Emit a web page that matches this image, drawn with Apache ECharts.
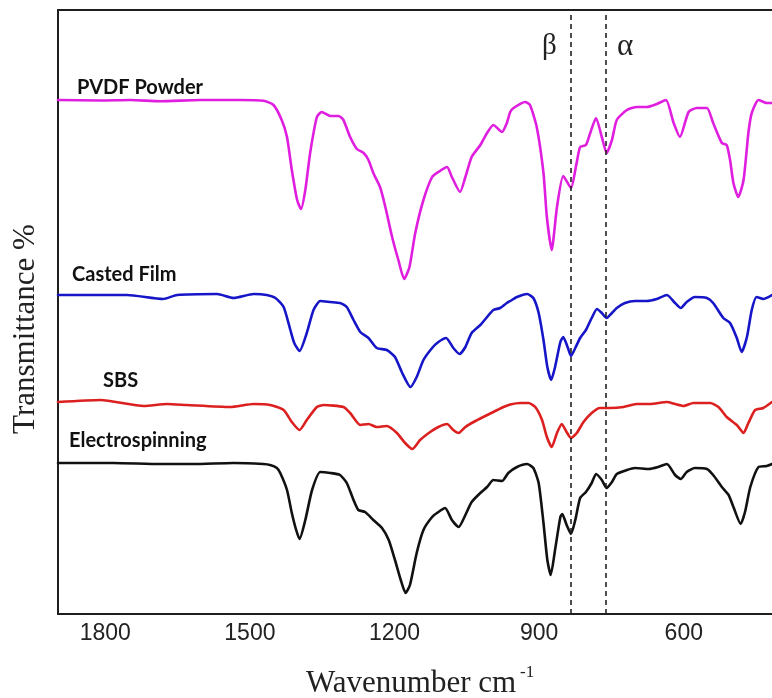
<!DOCTYPE html>
<html>
<head>
<meta charset="utf-8">
<script src="https://cdn.jsdelivr.net/npm/echarts@6/dist/echarts.min.js"></script>
<style>
  html, body { margin: 0; padding: 0; background: #fff; }
  #chart { width: 772px; height: 698px; }
</style>
</head>
<body>
<div id="chart"></div>
<script>
// FTIR spectra, [wavenumber (cm^-1), transmittance in arbitrary offset units]
const pvdfPowder = [
  [1898,514],[1810,513.5],[1748,514],[1686,512.7],[1603,514],[1520,514],[1472,513.3],
  [1451,509],[1434,494],[1423,477],[1413,444],[1402,414],[1394,405],[1385,424],[1375,461],
  [1361,497],[1351,502],[1333,498],[1316,498],[1306,494],[1292,477],[1278,465],[1264,461],
  [1254,454],[1244,441],[1230,427],[1219,407],[1205,377],[1192,354],[1180,335],[1169,347],
  [1157,381],[1140,414],[1122,437],[1109,442],[1091,447],[1081,437],[1064,422],[1053,437],
  [1040,457],[1022,469],[1008,481],[995,489],[977,482],[967,491],[960,502],[953,506],
  [929,512],[919,509],[905,487],[891,441],[884,397],[874,364],[863,407],[850,438],
  [834,426],[823,449],[815,467],[803,469],[794,481],[782,496],[770,477],[760,461],
  [749,474],[739,494],[718,504],[697,507],[677,507],[656,510],[637,514],[621,491],
  [608,477],[590,502],[573,506],[552,506],[539,491],[521,471],[511,469],[504,454],
  [497,431],[487,417],[476,434],[466,481],[459,501],[445,514],[428,511],[417,511]
];
const castedFilm = [
  [1898,319],[1810,319],[1755,319],[1680,315],[1651,319],[1568,320],[1534,316],[1492,320],
  [1465,319],[1447,316],[1430,307],[1416,284],[1408,271],[1397,263],[1382,281],[1368,304],
  [1354,313],[1333,312],[1313,311],[1299,307],[1285,294],[1271,282],[1254,276],[1237,266],
  [1216,264],[1199,257],[1185,242],[1167,227],[1154,237],[1140,254],[1122,266],[1109,272],
  [1093,276],[1078,266],[1065,260],[1053,267],[1040,281],[1022,289],[1008,297],[995,304],
  [981,306],[967,311],[960,313],[946,317],[925,320],[912,316],[901,301],[891,274],
  [883,247],[875,234],[867,247],[856,272],[850,277],[841,267],[834,258],[825,266],
  [815,276],[803,284],[791,296],[780,305],[770,301],[760,296],[749,301],[739,306],
  [722,311],[701,313],[677,313],[656,315],[635,319],[618,311],[606,306],[594,312],
  [577,317],[552,316],[539,311],[518,296],[504,291],[490,276],[480,262],[469,277],
  [459,304],[449,317],[435,315],[417,319]
];
const sbs = [
  [1898,212],[1810,214],[1720,208],[1672,210],[1631,209],[1541,207],[1492,210],[1458,209],
  [1430,204],[1413,192],[1397,184],[1382,194],[1361,207],[1347,209],[1306,207],[1292,201],
  [1271,189],[1254,190],[1237,187],[1216,188],[1195,181],[1178,171],[1163,165],[1147,174],
  [1126,182],[1109,187],[1091,190],[1078,184],[1067,181],[1053,187],[1036,192],[1016,197],
  [995,202],[974,207],[960,209.5],[939,211],[922,211],[908,207],[894,194],[884,177],
  [874,167],[863,181],[853,190],[843,182],[834,176],[822,181],[808,192],[791,201],
  [774,206],[753,206],[725,207],[698,210],[670,210],[635,212],[618,210],[601,208],
  [580,211],[545,211],[528,207],[511,197],[490,189],[476,181],[466,191],[452,204],
  [435,206],[417,212]
];
const electrospinning = [
  [1898,151],[1783,151],[1686,150],[1617,150],[1534,151],[1472,150],[1458,149],[1444,146],
  [1437,141],[1423,124],[1413,101],[1404,84],[1397,75],[1385,94],[1371,124],[1354,142],
  [1333,141],[1313,139],[1299,131],[1285,114],[1275,104],[1261,102],[1244,94],[1226,86],
  [1212,74],[1199,54],[1187,34],[1177,21],[1168,29],[1154,61],[1140,84],[1122,97],
  [1109,102],[1095,106],[1081,94],[1067,87],[1053,99],[1040,112],[1022,121],[1008,127],
  [995,134],[977,133],[964,141],[946,147],[925,150],[912,146],[901,131],[891,91],
  [883,54],[876,39],[867,64],[856,97],[852,100],[843,89],[834,80],[825,94],
  [815,116],[803,122],[791,131],[782,140],[770,134],[760,126],[749,132],[739,140],
  [718,144],[701,146],[673,145],[653,147],[635,150],[618,139],[606,135],[594,142],
  [577,146],[552,145],[539,139],[521,127],[507,119],[497,107],[482,90],[473,102],
  [462,127],[445,147],[428,148],[417,150]
];
const wavenumberTicks = [1800, 1500, 1200, 900, 600];
const phaseLines = [834, 761];        // β and α marker positions
const seriesNames = ['PVDF Powder', 'Casted Film', 'SBS', 'Electrospinning'];

const axisColor = '#1e1e1e';
const chart = echarts.init(document.getElementById('chart'), null, { renderer: 'canvas' });

function spectrum(name, data, color, extra) {
  return Object.assign({
    name: name,
    type: 'line',
    data: data,
    showSymbol: false,
    smooth: 0.2,
    lineStyle: { color: color, width: 2.6, join: 'round', cap: 'round' },
    itemStyle: { color: color },
    silent: true,
    animation: false
  }, extra || {});
}

const labelFont = 'bold 20px Lato, "Open Sans", sans-serif';
const serif = '"Liberation Serif", "Times New Roman", serif';

chart.setOption({
  animation: false,
  backgroundColor: '#ffffff',
  grid: { left: 58, top: 10, right: 0, bottom: 84, containLabel: false },
  xAxis: [
    {
      type: 'value', inverse: true, min: 417, max: 1898, position: 'bottom',
      axisLine: { show: true, onZero: false, lineStyle: { color: axisColor, width: 2 } },
      axisTick: { show: false },
      splitLine: { show: false },
      axisLabel: {
        customValues: wavenumberTicks,
        formatter: v => String(v),
        color: '#222', fontSize: 23, fontFamily: '"Liberation Sans", Arial, sans-serif',
        margin: 8
      }
    },
    {
      type: 'value', inverse: true, min: 417, max: 1898, position: 'top',
      axisLine: { show: true, onZero: false, lineStyle: { color: axisColor, width: 2 } },
      axisTick: { show: false }, axisLabel: { show: false }, splitLine: { show: false }
    }
  ],
  yAxis: {
    type: 'value', min: 0, max: 604,
    axisLine: { show: true, onZero: false, lineStyle: { color: axisColor, width: 2 } },
    axisTick: { show: false }, axisLabel: { show: false }, splitLine: { show: false }
  },
  series: [
    spectrum(seriesNames[0], pvdfPowder, '#e01ee0', {
      markLine: {
        silent: true, symbol: ['none', 'none'], animation: false,
        label: { show: false },
        lineStyle: { color: '#222', type: [5, 4], width: 1.6 },
        data: phaseLines.map(v => ({ xAxis: v }))
      }
    }),
    spectrum(seriesNames[1], castedFilm, '#1616c8'),
    spectrum(seriesNames[2], sbs, '#dc2020'),
    spectrum(seriesNames[3], electrospinning, '#111111')
  ],
  graphic: [
    { type: 'text', left: 77, top: 78, style: { text: seriesNames[0], font: labelFont, fill: '#111' } },
    { type: 'text', left: 72, top: 264.5, style: { text: seriesNames[1], font: labelFont, fill: '#111' } },
    { type: 'text', left: 103, top: 370.5, style: { text: seriesNames[2], font: labelFont, fill: '#111' } },
    { type: 'text', left: 69, top: 431, style: { text: seriesNames[3], font: labelFont, fill: '#111' } },
    { type: 'text', left: 542, top: 32, style: { text: 'β', font: '29px ' + serif, fill: '#222' } },
    { type: 'text', left: 617, top: 31, style: { text: 'α', font: '31px ' + serif, fill: '#222' } },
    {
      type: 'text', x: 26, y: 329, rotation: Math.PI / 2,
      style: { text: 'Transmittance %', font: '31px ' + serif,
               fill: '#222', align: 'center', verticalAlign: 'middle' }
    },
    {
      type: 'group', left: 306, top: 664,
      children: [
        { type: 'text', x: 0, y: 7, style: { text: 'Wavenumber cm', font: '31px ' + serif, fill: '#222' } },
        { type: 'text', x: 214, y: 3, style: { text: '-1', font: '17px ' + serif, fill: '#222' } }
      ]
    }
  ]
});
</script>
</body>
</html>
